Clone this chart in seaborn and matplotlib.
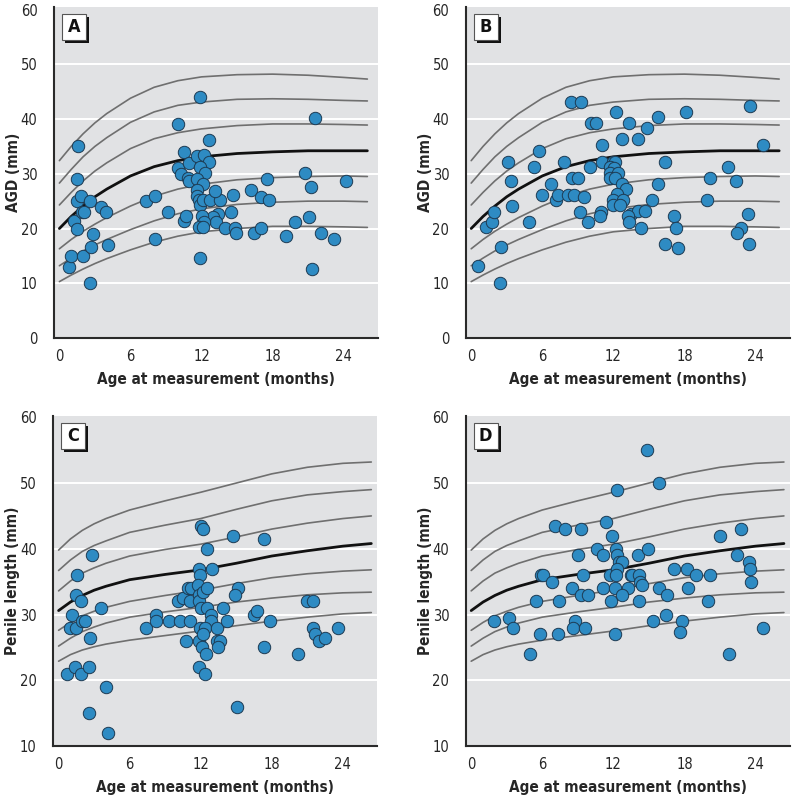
import numpy as np
import pandas as pd
import matplotlib
matplotlib.use('Agg')
import matplotlib.pyplot as plt
import matplotlib.font_manager as fm
from matplotlib.patches import Rectangle
import seaborn as sns

# --- data ------------------------------------------------------------------
# Panel A: AGD (mm) vs age (months)
a_age = [0.8, 1.0, 1.2, 1.45, 1.6, 1.5, 1.5, 1.85, 1.9, 2.1, 2.0, 2.55, 2.55, 2.65, 2.8,
         3.55, 3.9, 4.1, 7.3, 8.1, 8.1, 9.2, 10.05, 10.0, 10.3, 10.55, 10.55, 10.7, 10.85,
         10.95, 10.95, 11.6, 11.9, 11.9, 12.6, 12.25, 12.6, 11.9, 12.3, 11.65, 12.1, 11.6,
         11.65, 11.75, 11.85, 12.1, 12.75, 13.6, 13.1, 14.65, 16.2, 17.0, 17.5, 17.7, 14.45,
         13.35, 13.0, 13.2, 12.0, 12.2, 11.75, 12.1, 13.95, 14.8, 14.95, 16.4, 17.05, 19.15,
         19.9, 20.75, 21.2, 21.05, 21.6, 22.1, 23.2, 21.35, 24.2]
a_agd = [13.0, 15.0, 21.4, 20.0, 35.0, 29.0, 25.0, 26.0, 23.0, 23.0, 15.0, 25.0, 10.0, 16.6, 19.0,
         24.0, 23.0, 17.0, 25.0, 26.0, 18.0, 23.0, 39.0, 31.0, 30.0, 34.0, 21.4, 22.2, 29.2,
         28.6, 32.0, 33.2, 44.0, 14.6, 36.2, 33.5, 32.1, 31.2, 30.1, 29.1, 28.1, 27.1,
         26.0, 25.2, 24.3, 25.2, 25.2, 25.2, 26.8, 26.1, 27.1, 25.8, 29.1, 25.2, 23.1,
         22.6, 22.1, 21.1, 22.2, 21.1, 20.2, 20.2, 20.1, 20.1, 19.1, 19.1, 20.1, 18.7,
         21.2, 30.1, 27.5, 22.1, 40.2, 19.1, 18.1, 12.6, 28.6]

# Panel B: AGD (mm) vs age (months)
b_age = [0.6, 1.25, 1.75, 1.95, 2.4, 2.5, 3.1, 3.4, 3.45, 4.85, 5.3, 5.75, 6.0, 6.75, 7.15,
         7.3, 7.85, 8.15, 8.65, 8.45, 9.3, 8.5, 9.0, 9.5, 9.2, 9.85, 10.0, 10.15, 10.5, 11.05,
         11.05, 11.0, 10.85, 12.25, 13.35, 14.85, 15.8, 18.1, 23.55, 12.7, 14.05, 24.6, 16.4,
         11.95, 12.1, 11.75, 12.05, 21.7, 20.15, 22.35, 15.75, 11.7, 12.4, 11.7, 12.1, 12.7,
         13.1, 12.3, 12.0, 12.8, 12.0, 12.6, 15.3, 19.9, 13.5, 14.05, 14.65, 13.2, 13.35,
         14.3, 17.1, 17.3, 23.4, 22.8, 22.45, 16.4, 17.5, 23.45]
b_agd = [13.2, 20.2, 21.1, 23.1, 10.1, 16.6, 32.2, 28.7, 24.2, 21.1, 31.2, 34.2, 26.1, 28.2, 25.2,
         26.1, 32.2, 26.1, 26.1, 43.2, 43.2, 29.2, 29.2, 25.8, 23.1, 21.1, 31.2, 39.2, 39.2, 35.2,
         32.2, 23.1, 22.2, 41.2, 39.2, 38.3, 40.3, 41.2, 42.3, 36.3, 36.3, 35.2, 32.2,
         32.2, 32.1, 31.2, 31.0, 31.2, 29.2, 28.6, 28.2, 30.1, 30.2, 29.2, 29.2, 28.2,
         27.2, 26.3, 25.2, 25.2, 24.3, 24.3, 25.2, 25.2, 22.7, 23.2, 23.2, 22.2, 21.1,
         20.1, 22.2, 20.1, 22.7, 20.1, 19.1, 17.1, 16.4, 17.1]

# Panel C: penile length (mm) vs age (months)
c_age = [0.75, 0.95, 1.15, 1.55, 1.45, 1.45, 1.9, 2.0, 2.2, 1.4, 1.85, 2.55, 2.65, 2.8, 2.55,
         3.6, 4.0, 4.15, 7.35, 8.2, 8.2, 9.3, 10.1, 10.5, 10.25, 10.75, 10.9, 11.15, 11.1, 11.1,
         12.0, 12.15, 11.85, 11.95, 11.8, 11.85, 11.85, 12.15, 12.5, 12.95, 12.55, 12.05, 12.5,
         12.85, 12.85, 11.95, 12.4, 13.35, 13.85, 14.2, 11.85, 12.2, 12.1, 12.45, 13.35, 13.6,
         13.45, 11.85, 12.35, 14.7, 17.3, 15.15, 14.9, 16.5, 16.75, 17.85, 21.0, 21.5, 21.45,
         21.65, 21.95, 22.45, 23.6, 20.2, 17.35, 15.1]
c_len = [21.0, 28.0, 30.0, 36.0, 33.0, 28.0, 32.0, 29.0, 29.0, 22.0, 21.0, 22.0, 26.5, 39.0, 15.0,
         31.0, 19.0, 12.0, 28.0, 30.0, 29.0, 29.0, 32.0, 32.5, 29.0, 26.0, 34.0, 34.0, 32.0, 29.0,
         43.5, 43.0, 37.0, 36.0, 34.5, 33.0, 32.0, 33.5, 40.0, 37.0, 34.0, 31.0, 31.0,
         30.0, 29.0, 28.0, 28.0, 28.0, 31.0, 29.0, 26.0, 27.0, 25.0, 24.0, 26.0, 26.0,
         25.0, 22.0, 21.0, 42.0, 41.5, 34.0, 33.0, 30.0, 30.5, 29.0, 32.0, 32.0, 28.0,
         27.0, 26.0, 26.5, 28.0, 24.0, 25.0, 16.0]

# Panel D: penile length (mm) vs age (months)
d_age = [1.9, 3.2, 3.5, 4.95, 5.45, 5.85, 5.9, 6.1, 6.85, 7.05, 7.9, 7.4, 7.3, 8.55, 8.75, 8.6,
         9.25, 9.05, 9.4, 9.25, 9.9, 9.6, 10.6, 11.15, 11.35, 11.85, 11.1, 11.75, 11.8, 12.15,
         12.35, 14.85, 15.85, 21.0, 22.8, 12.2, 12.3, 14.05, 14.95, 12.45, 12.75, 12.35, 12.2,
         13.45, 13.6, 14.15, 14.25, 14.4, 12.15, 13.2, 12.75, 14.2, 17.15, 18.2, 19.0, 20.15,
         18.3, 15.85, 16.5, 19.95, 22.4, 23.45, 23.5, 23.6, 15.35, 16.45, 17.8, 17.6, 21.8, 24.65]
d_len = [29.0, 29.4, 28.0, 24.0, 32.0, 27.0, 36.0, 36.0, 35.0, 43.5, 43.0, 32.0, 27.0, 34.0, 29.0, 28.0,
         43.0, 39.0, 36.0, 33.0, 33.0, 28.0, 40.0, 39.0, 44.0, 42.0, 34.0, 36.0, 32.0, 27.0,
         49.0, 55.0, 50.0, 42.0, 43.0, 40.0, 39.0, 39.0, 40.0, 38.0, 38.0, 37.0, 36.0,
         36.0, 36.0, 36.0, 35.0, 34.5, 34.0, 34.0, 33.0, 32.0, 37.0, 37.0, 36.0, 36.0,
         34.0, 34.0, 33.0, 32.0, 39.0, 38.0, 37.0, 35.0, 29.0, 30.0, 29.0, 27.3, 24.0, 28.0]

# reference centile curves (read at fixed ages)
agd_curve_age = [0, 1, 2, 3, 4, 6, 8, 10, 12, 15, 18, 21, 24, 26]
agd_c1 = [10.3, 11.5, 12.6, 13.6, 14.5, 16.1, 17.5, 18.6, 19.4, 20.0, 20.4, 20.4, 20.3, 20.2]
agd_c2 = [13.2, 14.6, 15.9, 17.0, 18.0, 19.8, 21.4, 22.7, 23.6, 24.4, 24.8, 25.0, 25.0, 24.9]
agd_c3 = [16.3, 18.0, 19.5, 20.8, 22.0, 24.1, 25.9, 27.2, 28.1, 28.9, 29.3, 29.5, 29.6, 29.5]
agd_med = [20.0, 22.2, 24.1, 25.8, 27.2, 29.6, 31.3, 32.4, 33.1, 33.7, 34.0, 34.2, 34.2, 34.2]
agd_c5 = [24.3, 26.6, 28.7, 30.5, 32.0, 34.6, 36.4, 37.5, 38.2, 38.8, 39.1, 39.1, 39.0, 38.9]
agd_c6 = [28.3, 30.8, 33.1, 35.0, 36.6, 39.4, 41.3, 42.5, 43.1, 43.6, 43.7, 43.6, 43.4, 43.3]
agd_c7 = [32.4, 35.0, 37.3, 39.3, 41.0, 43.8, 45.8, 47.0, 47.7, 48.1, 48.2, 48.0, 47.6, 47.3]

pl_curve_age = [0, 1, 2, 3, 4, 6, 9, 12, 15, 18, 21, 24, 26.4]
pl_c1 = [22.9, 23.9, 24.6, 25.1, 25.5, 26.1, 26.8, 27.5, 28.3, 29.0, 29.6, 30.1, 30.3]
pl_c2 = [25.2, 26.4, 27.4, 28.1, 28.7, 29.6, 30.4, 31.1, 31.9, 32.5, 33.0, 33.3, 33.4]
pl_c3 = [27.6, 28.8, 29.8, 30.5, 31.1, 32.0, 32.9, 33.7, 34.7, 35.6, 36.2, 36.6, 36.8]
pl_med = [30.6, 31.9, 32.9, 33.7, 34.3, 35.3, 36.1, 36.8, 37.8, 38.9, 39.7, 40.4, 40.8]
pl_c5 = [33.6, 35.1, 36.3, 37.1, 37.8, 38.9, 39.9, 40.7, 41.8, 43.0, 43.9, 44.6, 45.0]
pl_c6 = [36.7, 38.3, 39.6, 40.5, 41.2, 42.5, 43.6, 44.6, 46.0, 47.3, 48.2, 48.7, 49.0]
pl_c7 = [39.8, 41.5, 42.8, 43.8, 44.6, 45.9, 47.3, 48.6, 50.0, 51.4, 52.4, 53.0, 53.2]

panel_letters = ['A', 'B', 'C', 'D']
xticks = [0, 6, 12, 18, 24]

# --- style -------------------------------------------------------------------
sns.set_style('white', {'axes.facecolor': '#e1e2e4'})

# the reference uses a condensed sans; pick one if installed
narrow = [f for f in fm.fontManager.ttflist
          if 'Narrow' in f.name or 'Condensed' in f.name
          or f.stretch in ('condensed', 'semi-condensed', 'extra-condensed')]
if narrow:
    font_name = narrow[0].name
    font_stretch = narrow[0].stretch if narrow[0].stretch != 'normal' else 'condensed'
    squeeze = 1.0
else:
    font_name = 'Liberation Sans'
    font_stretch = 'normal'
    squeeze = 0.9
plt.rcParams['font.family'] = [font_name, 'DejaVu Sans']
plt.rcParams['font.stretch'] = font_stretch

dot_color = '#2e8bc3'
dot_edge = '#1d3a52'
curve_color = '#6f6f6f'

fig = plt.figure(figsize=(7.95, 8.0), dpi=100)
ax_pos = [[0.068, 0.5775, 0.4075, 0.414],
          [0.586, 0.5775, 0.4075, 0.414],
          [0.067, 0.0675, 0.4075, 0.4125],
          [0.586, 0.0675, 0.4075, 0.4125]]

agd_curves = [agd_c1, agd_c2, agd_c3, agd_med, agd_c5, agd_c6, agd_c7]
pl_curves = [pl_c1, pl_c2, pl_c3, pl_med, pl_c5, pl_c6, pl_c7]

panels = [
    (a_age, a_agd, agd_curve_age, agd_curves, 'AGD (mm)', (0, 60.5), range(0, 61, 10)),
    (b_age, b_agd, agd_curve_age, agd_curves, 'AGD (mm)', (0, 60.5), range(0, 61, 10)),
    (c_age, c_len, pl_curve_age, pl_curves, 'Penile length (mm)', (10, 60.2), range(10, 61, 10)),
    (d_age, d_len, pl_curve_age, pl_curves, 'Penile length (mm)', (10, 60.2), range(10, 61, 10)),
]

for i, (ages, vals, cage, curves, ylab, ylim, yticks) in enumerate(panels):
    ax = fig.add_axes(ax_pos[i])

    # white horizontal gridlines
    for yv in yticks:
        if ylim[0] < yv < 60:
            ax.axhline(yv, color='white', lw=1.4, zorder=0.5)

    # centile curves
    curve_df = pd.DataFrame({'age': np.tile(cage, len(curves)),
                             'val': np.concatenate(curves),
                             'curve': np.repeat(np.arange(len(curves)), len(cage))})
    for k in range(len(curves)):
        sub = curve_df[curve_df['curve'] == k]
        if k == 3:
            sns.lineplot(data=sub, x='age', y='val', ax=ax, color='#111111', lw=2.0,
                         zorder=2, estimator=None, sort=False)
        else:
            sns.lineplot(data=sub, x='age', y='val', ax=ax, color=curve_color, lw=1.2,
                         zorder=2, estimator=None, sort=False)

    # observations
    pts = pd.DataFrame({'age': ages, 'val': vals})
    sns.scatterplot(data=pts, x='age', y='val', ax=ax, s=80, color=dot_color,
                    edgecolor=dot_edge, linewidth=0.7, zorder=3)

    ax.set_xlim(-0.45, 26.9)
    ax.set_ylim(*ylim)
    ax.set_xticks(xticks)
    ax.set_yticks(list(yticks))
    ax.tick_params(axis='x', length=4, width=1, color='#333333', labelsize=10.5 * squeeze, pad=4)
    ax.tick_params(axis='y', length=0, labelsize=10.5 * squeeze, pad=12)
    for side in ['top', 'right']:
        ax.spines[side].set_visible(False)
    for side in ['left', 'bottom']:
        ax.spines[side].set_color('#2a2a2a')
        ax.spines[side].set_linewidth(1.5)
    ax.set_xlabel('Age at measurement (months)', fontsize=11 * squeeze, fontweight='bold',
                  labelpad=6)
    ax.set_ylabel(ylab, fontsize=11 * squeeze, fontweight='bold')
    ax.yaxis.set_label_coords(-0.102, 0.5)

    # panel letter in a box with drop shadow
    bw, bh = 24 / 324, 26 / 331
    bx, by = 0.024, 0.899
    ax.add_patch(Rectangle((bx + 3 / 324, by - 3 / 331), bw, bh, transform=ax.transAxes,
                           fc='#111111', ec='none', zorder=5, clip_on=False))
    ax.add_patch(Rectangle((bx, by), bw, bh, transform=ax.transAxes,
                           fc='white', ec='#555555', lw=0.8, zorder=6, clip_on=False))
    ax.text(bx + bw / 2, by + bh / 2, panel_letters[i], transform=ax.transAxes,
            fontsize=13 * squeeze, fontweight='bold', color='#111111',
            ha='center', va='center', zorder=7)

fig.savefig('out.png', dpi=100)
